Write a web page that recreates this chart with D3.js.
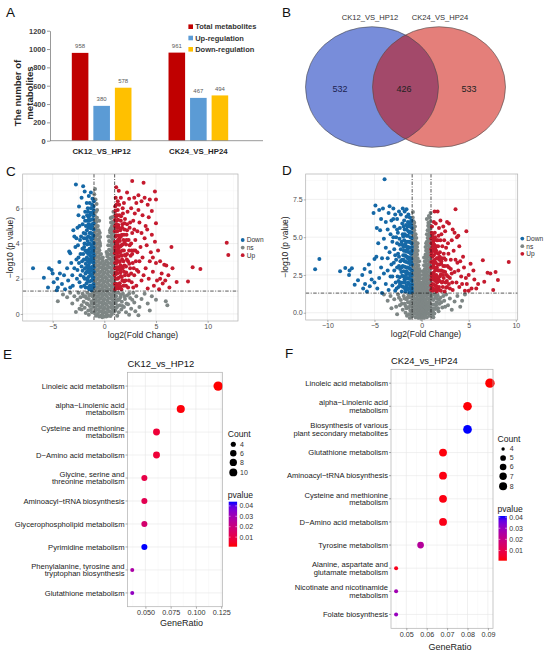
<!DOCTYPE html>
<html><head><meta charset="utf-8">
<script src="https://cdn.jsdelivr.net/npm/d3@7"></script>
<style>body{margin:0;background:#fff}svg{display:block}</style>
</head><body>
<svg id="c" width="550" height="656"></svg>
<script>
// ================= DATA =================
// Panel A
const groupsA = ["CK12_VS_HP12", "CK24_VS_HP24"];
const seriesA = ["Total metabolites", "Up-regulation", "Down-regulation"];
const totalA = [958, 961];
const upA = [380, 467];
const downA = [578, 494];
const yTicksA = [0, 200, 400, 600, 800, 1000, 1200];

// Panel B
const vennSets = ["CK12_VS_HP12", "CK24_VS_HP24"];
const vennCounts = [532, 426, 533]; // only A, both, only B

// Panel C volcano (log2FC, -log10 p)
const downC = [[-6.9,2.6],[-5.85,2.05],[-5.35,2.6],[-5.1,2.5],[-5.0,2.3],[-5.45,1.5],[-4.9,1.8],[-4.5,1.5],[-4.55,2.0],[-4.35,2.95],[-4.3,2.3],[-4.6,1.35],[-4.1,1.7],[-3.9,2.2],[-3.8,1.4],[-3.6,2.6],[-3.5,1.9],[-3.4,3.55],[-3.3,3.45],[-3.2,2.9],[-3.1,2.2],[-3.0,4.75],[-2.9,4.4],[-3.05,1.6],[-2.75,7.35],[-2.05,7.25],[-2.45,6.1],[-2.8,3.8],[-2.7,3.1],[-2.6,2.5],[-2.6,4.9],[-2.5,5.6],[-2.4,1.8],[-2.35,4.2],[-2.3,3.4],[-2.2,6.6],[-2.2,2.7],[-2.1,5.1],[-2.0,4.6],[-2.0,2.1],[-1.95,3.8],[-1.9,6.95],[-1.85,5.8],[-1.8,3.1],[-1.8,1.5],[-1.75,4.3],[-1.7,2.4],[-1.7,6.3],[-1.65,5.3],[-1.6,3.6],[-1.6,1.9],[-1.55,4.9],[-1.5,2.8],[-1.5,6.7],[-1.45,4.0],[-1.4,1.6],[-1.4,5.6],[-1.35,3.3],[-1.35,2.2],[-1.3,4.6],[-1.3,6.0],[-1.25,2.6],[-1.25,3.9],[-1.2,1.45],[-1.2,5.1],[-1.15,3.0],[-1.15,4.3],[-1.1,2.0],[-1.1,5.4],[-1.1,3.6],[-1.05,1.7],[-1.05,2.9],[-1.05,4.8],[-1.02,2.4],[-1.02,3.3],[-1.02,6.4],[-1.08,4.05],[-1.12,2.7],[-1.18,3.5],[-1.22,1.9],[-1.28,5.0],[-1.32,2.95],[-1.38,4.35],[-1.42,3.7],[-1.48,2.35],[-1.52,5.5],[-1.58,2.55],[-1.62,4.15],[-1.68,3.2],[-1.72,1.75],[-1.78,5.0],[-1.88,2.6],[-1.92,4.0],[-2.15,3.0],[-2.25,1.55],[-2.55,3.9],[-2.65,2.0],[-2.9,2.6],[-3.3,1.5],[-1.6,6.0],[-1.3,6.9],[-1.05,5.9],[-1.15,6.55],[-1.25,1.35],[-1.45,1.4],[-1.9,2.0],[-2.05,3.4],[-2.45,2.9],[-1.2,2.25],[-1.38,2.62],[-1.08,3.05],[-1.03,3.75],
[-1.03,1.55],[-1.06,2.05],[-1.04,2.65],[-1.07,3.45],[-1.03,4.0],[-1.06,4.45],[-1.04,5.15],[-1.07,5.6],[-1.04,6.1],[-1.16,1.6],[-1.19,2.15],[-1.14,2.45],[-1.17,3.25],[-1.13,3.8],[-1.19,4.55],[-1.16,5.0],[-1.14,5.75],[-1.18,6.2],[-1.28,1.6],[-1.3,2.45],[-1.27,3.15],[-1.31,3.7],[-1.26,4.2],[-1.3,4.85],[-1.27,5.35],[-1.33,5.75],[-1.42,1.85],[-1.4,2.5],[-1.44,3.1],[-1.41,3.5],[-1.43,4.6],[-1.39,5.0],[-1.46,5.3],[-1.41,6.3],[-1.55,1.5],[-1.53,2.1],[-1.57,3.0],[-1.54,3.4],[-1.56,4.4],[-1.53,5.1],[-1.58,5.8],[-1.68,2.0],[-1.66,2.7],[-1.7,3.5],[-1.65,3.95],[-1.69,4.75],[-1.67,5.6],[-1.82,2.3],[-1.8,2.85],[-1.84,3.6],[-1.83,4.55],[-1.86,5.3],[-1.95,1.6],[-1.98,3.1],[-1.97,4.3],[-2.02,5.5],[-2.1,2.45],[-2.12,3.7],[-2.25,4.4],[-2.3,2.2],[-2.4,5.0],[-2.5,3.2],[-2.7,4.3]];
const upC = [[2.7,7.55],[3.8,7.45],[1.15,7.2],[4.9,6.95],[5.0,6.5],[4.6,5.85],[5.0,5.15],[6.5,3.8],[11.85,4.05],[12.0,3.35],[8.55,2.65],[9.3,2.55],[7.0,1.82],[8.1,1.85],[6.6,2.6],[5.8,2.8],[5.55,2.3],[5.65,1.73],[6.0,2.75],[6.2,2.2],[6.3,1.5],[5.9,1.9],[5.4,2.0],[5.1,1.9],[4.4,6.5],[4.2,6.2],[3.9,6.6],[3.6,6.4],[3.3,6.75],[3.1,6.3],[2.9,6.6],[2.6,6.0],[2.4,6.55],[2.2,6.9],[1.9,6.3],[1.6,6.6],[1.4,7.0],[1.1,6.6],[1.3,6.4],[4.3,5.5],[4.0,5.0],[3.7,5.6],[3.4,5.2],[3.2,4.7],[4.6,4.5],[4.9,4.1],[5.2,3.6],[4.5,3.5],[4.1,3.9],[3.9,4.3],[5.4,3.0],[5.0,2.9],[4.7,2.4],[4.3,2.0],[4.0,2.6],[3.7,3.2],[3.5,3.8],[3.3,2.4],[3.1,1.6],[4.8,1.6],[5.3,1.4],[4.2,1.45],[3.6,1.9],[2.8,1.5],[4.4,3.0],[3.8,2.2],[3.6,4.6],[4.15,4.8],[3.4,3.0],[4.7,3.2],[1.05,1.4],[1.1,2.0],[1.05,2.6],[1.1,3.2],[1.05,3.8],[1.1,4.4],[1.05,5.0],[1.1,5.6],[1.05,6.1],[1.2,1.7],[1.25,2.3],[1.2,2.9],[1.25,3.5],[1.2,4.1],[1.25,4.7],[1.2,5.3],[1.3,5.9],[1.35,1.45],[1.4,2.05],[1.35,2.65],[1.4,3.25],[1.35,3.85],[1.4,4.45],[1.35,5.05],[1.45,5.6],[1.5,1.75],[1.55,2.35],[1.5,2.95],[1.55,3.55],[1.5,4.15],[1.55,4.75],[1.6,5.3],[1.65,1.4],[1.7,2.1],[1.65,2.7],[1.7,3.3],[1.65,3.9],[1.7,4.5],[1.75,5.1],[1.8,5.7],[1.85,1.6],[1.9,2.4],[1.85,3.0],[1.9,3.6],[1.85,4.2],[1.95,4.8],[2.0,5.4],[2.05,1.9],[2.1,2.7],[2.05,3.3],[2.1,3.95],[2.15,4.5],[2.2,5.1],[2.25,5.8],[2.3,1.5],[2.35,2.2],[2.3,3.0],[2.4,3.6],[2.35,4.2],[2.45,4.9],[2.5,2.6],[2.55,3.3],[2.6,4.0],[2.65,1.8],[2.7,4.6],[2.75,2.9],[2.8,5.3],[2.85,3.6],[2.9,2.2],[3.0,4.2],[3.05,3.0],[2.95,5.7],[1.15,2.3],[1.12,3.5],[1.18,4.7],[1.08,1.7],[1.28,2.0],[1.3,3.0],[1.32,4.2],[1.45,3.5],[1.6,2.5],[1.75,3.6],[1.9,4.5],[2.0,2.2],[2.2,3.4],[2.5,5.2],[3.2,3.5],[3.3,5.9],[2.7,3.4],[1.22,5.6],[1.02,4.7],[1.02,3.45],[1.02,2.2],
[1.03,1.7],[1.07,2.35],[1.04,2.9],[1.06,3.65],[1.03,4.1],[1.08,4.95],[1.04,5.35],[1.07,5.85],[1.15,1.5],[1.17,2.65],[1.14,3.1],[1.16,3.9],[1.18,4.45],[1.15,5.1],[1.17,5.55],[1.16,6.2],[1.27,1.55],[1.3,2.5],[1.28,3.3],[1.31,3.65],[1.27,4.0],[1.3,4.9],[1.33,5.35],[1.42,1.7],[1.45,2.6],[1.43,3.0],[1.4,3.75],[1.46,4.3],[1.43,4.9],[1.44,6.2],[1.57,1.55],[1.6,2.15],[1.58,2.75],[1.62,3.35],[1.57,3.85],[1.6,4.4],[1.62,5.55],[1.75,1.9],[1.78,2.6],[1.72,3.1],[1.77,3.95],[1.73,4.9],[1.78,6.0],[1.92,1.85],[1.95,2.75],[1.98,3.35],[1.96,4.05],[1.94,5.15],[2.1,1.6],[2.12,2.35],[2.18,3.1],[2.14,4.2],[2.2,4.75],[2.38,1.9],[2.42,2.85],[2.45,3.9],[2.6,2.3],[2.65,3.6],[2.85,2.6],[3.0,3.6],[3.15,2.5],[2.9,4.8]];
const nsC = [[-0.93,0.1],[-0.86,0.35],[-0.93,0.6],[-0.86,0.85],[-0.93,1.1],[-0.86,1.35],[-0.93,1.6],[-0.86,1.85],[-0.93,2.1],[-0.86,2.35],[-0.93,2.6],[-0.86,2.85],[-0.93,3.1],[-0.86,3.35],[-0.93,3.6],[-0.86,3.85],[-0.93,4.1],[-0.86,4.35],[-0.93,4.6],[-0.86,4.85],[-0.93,5.1],[-0.86,5.35],[-0.93,5.6],
[-0.78,0.22],[-0.71,0.47],[-0.78,0.72],[-0.71,0.97],[-0.78,1.22],[-0.71,1.47],[-0.78,1.72],[-0.71,1.97],[-0.78,2.22],[-0.71,2.47],[-0.78,2.72],[-0.71,2.97],[-0.78,3.22],[-0.71,3.47],[-0.78,3.72],[-0.71,3.97],[-0.78,4.22],[-0.71,4.47],[-0.78,4.72],[-0.71,4.97],[-0.78,5.22],[-0.71,5.47],
[-0.63,0],[-0.55,0.25],[-0.63,0.5],[-0.55,0.75],[-0.63,1],[-0.55,1.25],[-0.63,1.5],[-0.55,1.75],[-0.63,2],[-0.55,2.25],[-0.63,2.5],[-0.55,2.75],[-0.63,3],[-0.55,3.25],[-0.63,3.5],[-0.55,3.75],[-0.63,4],[-0.55,4.25],[-0.63,4.5],[-0.55,4.75],[-0.63,5],
[-0.48,0.12],[-0.41,0.37],[-0.48,0.62],[-0.41,0.87],[-0.48,1.12],[-0.41,1.37],[-0.48,1.62],[-0.41,1.87],[-0.48,2.12],[-0.41,2.37],[-0.48,2.62],[-0.41,2.87],[-0.48,3.12],[-0.41,3.37],[-0.48,3.62],[-0.41,3.87],[-0.48,4.12],[-0.41,4.37],[-0.48,4.62],
[-0.32,-0.1],[-0.24,0.15],[-0.32,0.4],[-0.24,0.65],[-0.32,0.9],[-0.24,1.15],[-0.32,1.4],[-0.24,1.65],[-0.32,1.9],[-0.24,2.15],[-0.32,2.4],[-0.24,2.65],[-0.32,2.9],[-0.24,3.15],[-0.32,3.4],
[-0.15,0.02],[-0.08,0.27],[-0.15,0.52],[-0.08,0.77],[-0.15,1.02],[-0.08,1.27],[-0.15,1.52],[-0.08,1.77],[-0.15,2.02],[-0.08,2.27],[-0.15,2.52],[-0.08,2.77],[-0.15,3.02],
[0.01,-0.15],[0.09,0.1],[0.01,0.35],[0.09,0.6],[0.01,0.85],[0.09,1.1],[0.01,1.35],[0.09,1.6],[0.01,1.85],[0.09,2.1],[0.01,2.35],[0.09,2.6],[0.01,2.85],
[0.22,0.02],[0.29,0.27],[0.22,0.52],[0.29,0.77],[0.22,1.02],[0.29,1.27],[0.22,1.52],[0.29,1.77],[0.22,2.02],[0.29,2.27],[0.22,2.52],[0.29,2.77],[0.22,3.02],[0.29,3.27],[0.22,3.52],
[0.38,-0.1],[0.46,0.15],[0.38,0.4],[0.46,0.65],[0.38,0.9],[0.46,1.15],[0.38,1.4],[0.46,1.65],[0.38,1.9],[0.46,2.15],[0.38,2.4],[0.46,2.65],[0.38,2.9],[0.46,3.15],[0.38,3.4],[0.46,3.65],[0.38,3.9],[0.46,4.15],[0.38,4.4],
[0.57,0.12],[0.64,0.37],[0.57,0.62],[0.64,0.87],[0.57,1.12],[0.64,1.37],[0.57,1.62],[0.64,1.87],[0.57,2.12],[0.64,2.37],[0.57,2.62],[0.64,2.87],[0.57,3.12],[0.64,3.37],[0.57,3.62],[0.64,3.87],[0.57,4.12],[0.64,4.37],[0.57,4.62],[0.64,4.87],
[0.74,0],[0.84,0.25],[0.74,0.5],[0.84,0.75],[0.74,1],[0.84,1.25],[0.74,1.5],[0.84,1.75],[0.74,2],[0.84,2.25],[0.74,2.5],[0.84,2.75],[0.74,3],[0.84,3.25],[0.74,3.5],[0.84,3.75],[0.74,4],[0.84,4.25],[0.74,4.5],[0.84,4.75],[0.74,5],[0.84,5.25],[0.74,5.5],
[0.93,0.12],[0.97,0.37],[0.93,0.62],[0.97,0.87],[0.93,1.12],[0.97,1.37],[0.93,1.62],[0.97,1.87],[0.93,2.12],[0.97,2.37],[0.93,2.62],[0.97,2.87],[0.93,3.12],[0.97,3.37],[0.93,3.62],[0.97,3.87],[0.93,4.12],[0.97,4.37],[0.93,4.62],[0.97,4.87],[0.93,5.12],
[-0.9,7.1],[-0.97,6.8],[-0.85,6.5],[-0.75,6.25],[-0.7,5.9],[-0.8,5.8],[-0.5,5.3],[0.55,4.75],[0.65,5.2],[0.88,5.8],[0.95,5.55],[0.62,5.45],[-0.42,4.0],[0.28,3.4],[-0.15,3.2],[-0.45,4.6],[0.2,3.0],
[-4.5,0.72],[-2.75,0.11],[-2.2,0.5],[3.3,-0.07],[5.95,0.72],[6.1,0.5],[-4.0,1.1],[-3.6,0.95],[-3.3,1.2],[-3.1,0.6],[-2.9,1.0],[-2.6,0.8],[-2.5,1.2],[-2.4,0.3],[-2.3,0.95],[-2.1,1.15],[-2.0,0.7],[-1.9,0.35],[-1.85,1.0],[-1.7,0.6],[-1.65,1.2],[-1.55,0.2],[-1.5,0.85],[-1.4,0.45],[-1.35,1.1],[-1.25,0.7],[-1.2,0.1],[-1.15,1.0],[-1.1,0.4],[-1.05,0.8],[-1.5,-0.05],[-1.8,0.05],
[1.05,0.2],[1.1,0.6],[1.15,1.0],[1.2,0.35],[1.3,0.8],[1.35,1.2],[1.4,0.1],[1.5,0.5],[1.55,0.95],[1.65,0.25],[1.7,0.7],[1.8,1.15],[1.9,0.4],[2.0,0.85],[2.1,0.1],[2.2,1.05],[2.3,0.55],[2.5,0.9],[2.6,0.3],[2.8,1.2],[2.9,0.65],[3.1,1.0],[3.4,0.4],[3.6,0.85],[3.9,1.15],[4.2,0.6],[4.6,1.0],[5.0,0.8],[4.4,0.2],[2.4,-0.05],[1.25,-0.1],[3.0,0.15],
[-0.8,-0.1],[-0.5,-0.15],[-0.2,-0.18],[0.2,-0.15],[0.6,-0.12],
[-1.1,1.2],[-1.2,0.6],[-1.3,0.25],[-1.45,1.05],[-1.6,0.55],[-1.75,0.9],[-2.0,1.0],[-2.2,0.25],[1.1,1.2],[1.2,0.75],[1.3,0.45],[1.45,0.8],[1.6,1.1],[1.75,0.45],[1.95,1.0],[2.15,0.6],[2.4,1.15],[2.7,0.8]];
const xTicksC = [-5, 0, 5, 10];
const yTicksC = [0, 2, 4, 6];

// Panel D volcano
const downD = [[-3.93,8.83],[-10.85,3.55],[-11.3,2.87],[-8.65,2.75],[-8.1,2.96],[-7.65,2.8],[-7.7,2.5],[-7.4,2.95],[-6.75,2.15],[-6.3,2.5],[-6.05,2.9],[-5.6,3.2],[-5.45,2.7],[-5.0,3.55],[-4.8,3.7],[-5.3,2.2],[-4.9,7.1],[-5.1,6.6],[-4.1,6.9],[-3.4,7.05],[-3.0,6.9],[-4.4,5.45],[-7.1,1.85],[-6.2,1.6],[-5.8,1.4],[-4.7,1.6],[-4.2,1.3],[-5.5,1.75],[-4.5,2.3],[-4.3,3.0],[-4.6,4.6],[-4.75,5.6],[-4.3,6.2],[-3.8,6.0],[-3.6,5.5],[-4.0,4.9],[-3.8,4.3],[-3.6,3.6],[-4.0,2.6],[-3.8,1.9],[-3.5,1.5],[-3.3,2.4],[-3.2,3.2],[-3.4,4.0],[-3.1,4.7],[-3.3,5.2],[-3.0,6.2],[-2.8,6.5],[-2.6,6.2],[-2.4,6.7],[-2.2,6.5],[-2.0,6.9],[-1.8,6.7],[-1.6,6.85],[-1.4,6.5],[-2.9,5.7],[-2.7,5.0],[-2.9,4.2],[-2.7,3.5],[-2.9,2.8],[-2.75,2.0],[-2.8,1.45],[-2.6,4.6],[-2.5,3.9],[-2.4,3.1],[-2.55,2.4],[-2.45,1.7],[-2.3,5.6],[-2.35,4.9],[-2.2,4.2],[-2.25,3.4],[-2.15,2.7],[-2.2,2.0],[-2.1,1.4],[-2.05,5.9],[-2.0,5.2],[-2.05,4.5],[-1.95,3.8],[-2.0,3.1],[-1.9,2.4],[-1.95,1.7],[-1.85,6.1],[-1.8,5.5],[-1.85,4.8],[-1.75,4.1],[-1.8,3.4],[-1.7,2.7],[-1.75,2.0],[-1.7,1.4],[-1.65,5.8],[-1.6,5.1],[-1.65,4.4],[-1.55,3.7],[-1.6,3.0],[-1.5,2.3],[-1.55,1.6],[-1.45,6.0],[-1.4,5.4],[-1.45,4.7],[-1.35,4.0],[-1.4,3.3],[-1.3,2.6],[-1.35,1.9],[-1.3,1.35],[-1.25,5.7],[-1.2,5.0],[-1.25,4.3],[-1.15,3.6],[-1.2,2.9],[-1.1,2.2],[-1.15,1.6],[-1.08,5.3],[-1.05,4.6],[-1.08,3.9],[-1.03,3.2],[-1.05,2.5],[-1.02,1.85],[-1.04,1.4],[-1.1,5.8],[-1.02,4.1],[-1.12,3.35],[-1.22,2.45],[-1.32,3.65],[-1.42,2.0],[-1.52,4.2],[-1.62,2.55],[-1.72,3.75],[-1.82,2.2],[-1.92,4.35],[-2.12,3.0],[-2.32,2.35],[-2.52,5.3],[-3.1,1.8],[-3.6,2.8],[-4.2,3.6],[-5.0,2.0],[-6.0,1.9],[-1.25,6.3],[-1.6,6.35],[-2.6,5.5],[-3.2,6.1],[-3.5,6.6],[-4.5,6.8],
[-1.03,1.6],[-1.06,2.1],[-1.04,2.8],[-1.07,3.55],[-1.03,4.35],[-1.06,4.95],[-1.04,5.6],[-1.07,6.1],[-1.16,1.35],[-1.19,1.85],[-1.14,2.55],[-1.17,3.2],[-1.13,3.9],[-1.19,4.65],[-1.16,5.35],[-1.14,6.0],[-1.28,1.65],[-1.3,2.25],[-1.27,2.95],[-1.31,3.4],[-1.26,4.0],[-1.3,4.7],[-1.27,5.3],[-1.33,5.9],[-1.45,1.55],[-1.48,2.6],[-1.44,3.0],[-1.47,3.6],[-1.42,4.35],[-1.46,5.1],[-1.5,5.7],[-1.6,1.8],[-1.63,2.25],[-1.58,2.75],[-1.62,3.35],[-1.57,4.05],[-1.64,4.7],[-1.6,5.5],[-1.77,1.6],[-1.74,2.35],[-1.79,3.05],[-1.76,3.8],[-1.72,4.55],[-1.78,5.2],[-1.92,2.0],[-1.9,2.75],[-1.93,3.5],[-1.88,4.1],[-1.95,5.05],[-1.9,5.7],[-2.1,1.75],[-2.05,2.45],[-2.08,3.5],[-2.12,4.7],[-2.3,1.9],[-2.28,2.9],[-2.4,3.7],[-2.35,4.5],[-2.45,2.1],[-2.6,3.0],[-2.65,1.6],[-2.8,3.8],[-2.95,3.3],[-3.1,2.4],[-3.0,5.0]];
const upD = [[3.6,6.85],[1.38,6.7],[1.7,6.7],[4.75,5.4],[6.5,3.47],[9.25,3.36],[7.85,2.7],[7.0,2.65],[7.3,2.6],[8.1,2.17],[6.65,2.05],[7.6,1.5],[6.0,1.9],[5.6,2.2],[5.3,1.6],[5.5,2.8],[5.2,3.25],[5.0,2.5],[4.8,1.9],[4.6,1.45],[4.5,3.0],[4.2,2.4],[4.0,1.7],[4.4,3.7],[4.0,4.4],[3.8,3.3],[3.7,2.0],[3.5,5.3],[3.3,5.5],[3.2,4.8],[3.4,4.1],[3.5,2.7],[3.3,1.5],[3.1,3.5],[3.0,2.3],[3.75,5.0],[2.9,5.9],[2.7,6.0],[2.5,5.4],[2.3,5.7],[2.1,5.2],[2.0,6.1],[1.85,5.6],[1.5,5.9],[1.3,6.0],[2.8,4.6],[2.85,3.9],[2.75,3.1],[2.8,2.4],[2.7,1.7],[2.6,4.3],[2.55,3.5],[2.5,2.7],[2.55,2.0],[2.45,1.4],[2.4,4.8],[2.35,3.9],[2.3,3.1],[2.35,2.3],[2.25,1.7],[2.2,4.4],[2.15,3.6],[2.1,2.8],[2.15,2.0],[2.05,1.45],[2.0,4.8],[1.95,4.0],[1.9,3.2],[1.95,2.4],[1.85,1.7],[1.8,5.1],[1.75,4.4],[1.7,3.6],[1.75,2.8],[1.65,2.0],[1.6,1.4],[1.6,4.8],[1.55,4.1],[1.5,3.3],[1.55,2.5],[1.45,1.8],[1.4,5.3],[1.35,4.5],[1.3,3.8],[1.35,3.0],[1.25,2.2],[1.3,1.5],[1.2,5.0],[1.15,4.2],[1.2,3.4],[1.1,2.6],[1.15,1.9],[1.08,5.3],[1.05,4.6],[1.05,3.8],[1.03,3.0],[1.05,2.2],[1.03,1.5],[1.1,5.7],[1.22,4.65],[1.28,2.65],[1.42,2.35],[1.48,3.95],[1.62,3.0],[1.78,2.2],[1.88,3.5],[2.08,3.25],[2.28,2.5],[2.48,3.1],[2.68,2.1],[2.9,1.9],[3.1,2.9],[3.25,2.0],[3.6,3.5],[3.9,2.8],[4.3,1.9],[5.0,1.45],[5.8,1.6],[4.7,2.3],[1.02,4.2],[1.18,1.45],[1.35,1.55],[3.9,5.1],[4.1,3.4],
[1.03,1.8],[1.07,2.45],[1.04,3.35],[1.06,4.0],[1.03,4.9],[1.15,1.6],[1.17,2.3],[1.14,3.0],[1.16,3.7],[1.18,4.4],[1.15,5.2],[1.28,1.85],[1.3,2.5],[1.27,3.2],[1.31,4.1],[1.29,4.8],[1.42,1.55],[1.45,2.1],[1.43,2.8],[1.4,3.5],[1.46,4.3],[1.43,5.0],[1.58,1.75],[1.6,2.25],[1.57,2.85],[1.62,3.6],[1.59,4.4],[1.72,1.55],[1.75,2.35],[1.73,3.2],[1.77,3.9],[1.72,4.8],[1.9,1.5],[1.92,2.1],[1.88,2.8],[1.93,3.7],[2.05,2.55],[2.1,3.4],[2.25,2.05],[2.3,2.75],[2.4,3.6],[2.6,1.65],[2.65,2.5],[2.9,3.0],[3.0,1.6],[3.2,2.6]];
const nsD = [[-0.94,-0.2],[-0.86,0.05],[-0.94,0.3],[-0.86,0.55],[-0.94,0.8],[-0.86,1.05],[-0.94,1.3],[-0.86,1.55],[-0.94,1.8],[-0.86,2.05],[-0.94,2.3],[-0.86,2.55],[-0.94,2.8],[-0.86,3.05],[-0.94,3.3],[-0.86,3.55],[-0.94,3.8],[-0.86,4.05],[-0.94,4.3],[-0.86,4.55],[-0.94,4.8],[-0.86,5.05],[-0.94,5.3],[-0.86,5.55],[-0.94,5.8],[-0.86,6.05],[-0.94,6.3],
[-0.78,-0.05],[-0.72,0.2],[-0.78,0.45],[-0.72,0.7],[-0.78,0.95],[-0.72,1.2],[-0.78,1.45],[-0.72,1.7],[-0.78,1.95],[-0.72,2.2],[-0.78,2.45],[-0.72,2.7],[-0.78,2.95],[-0.72,3.2],[-0.78,3.45],[-0.72,3.7],[-0.78,3.95],[-0.72,4.2],[-0.78,4.45],[-0.72,4.7],[-0.78,4.95],[-0.72,5.2],[-0.78,5.45],[-0.72,5.7],[-0.78,5.95],
[-0.64,-0.3],[-0.56,-0.05],[-0.64,0.2],[-0.56,0.45],[-0.64,0.7],[-0.56,0.95],[-0.64,1.2],[-0.56,1.45],[-0.64,1.7],[-0.56,1.95],[-0.64,2.2],[-0.56,2.45],[-0.64,2.7],[-0.56,2.95],[-0.64,3.2],[-0.56,3.45],[-0.64,3.7],[-0.56,3.95],[-0.64,4.2],[-0.56,4.45],[-0.64,4.7],[-0.56,4.95],[-0.64,5.2],
[-0.48,-0.15],[-0.42,0.1],[-0.48,0.35],[-0.42,0.6],[-0.48,0.85],[-0.42,1.1],[-0.48,1.35],[-0.42,1.6],[-0.48,1.85],[-0.42,2.1],[-0.48,2.35],[-0.42,2.6],[-0.48,2.85],[-0.42,3.1],[-0.48,3.35],[-0.42,3.6],[-0.48,3.85],[-0.42,4.1],[-0.48,4.35],[-0.42,4.6],
[-0.34,-0.35],[-0.26,-0.1],[-0.34,0.15],[-0.26,0.4],[-0.34,0.65],[-0.26,0.9],[-0.34,1.15],[-0.26,1.4],[-0.34,1.65],[-0.26,1.9],[-0.34,2.15],[-0.26,2.4],[-0.34,2.65],[-0.26,2.9],[-0.34,3.15],[-0.26,3.4],
[-0.18,-0.25],[-0.12,0.0],[-0.18,0.25],[-0.12,0.5],[-0.18,0.75],[-0.12,1.0],[-0.18,1.25],[-0.12,1.5],[-0.18,1.75],[-0.12,2.0],[-0.18,2.25],[-0.12,2.5],[-0.18,2.75],
[-0.04,-0.4],[0.04,-0.15],[-0.04,0.1],[0.04,0.35],[-0.04,0.6],[0.04,0.85],[-0.04,1.1],[0.04,1.35],[-0.04,1.6],[0.04,1.85],
[0.12,-0.25],[0.18,0.0],[0.12,0.25],[0.18,0.5],[0.12,0.75],[0.18,1.0],[0.12,1.25],[0.18,1.5],[0.12,1.75],[0.18,2.0],[0.12,2.25],[0.18,2.5],[0.12,2.75],
[0.26,-0.35],[0.34,-0.1],[0.26,0.15],[0.34,0.4],[0.26,0.65],[0.34,0.9],[0.26,1.15],[0.34,1.4],[0.26,1.65],[0.34,1.9],[0.26,2.15],[0.34,2.4],[0.26,2.65],[0.34,2.9],[0.26,3.15],[0.34,3.4],[0.26,3.65],
[0.42,-0.15],[0.48,0.1],[0.42,0.35],[0.48,0.6],[0.42,0.85],[0.48,1.1],[0.42,1.35],[0.48,1.6],[0.42,1.85],[0.48,2.1],[0.42,2.35],[0.48,2.6],[0.42,2.85],[0.48,3.1],[0.42,3.35],[0.48,3.6],[0.42,3.85],[0.48,4.1],[0.42,4.35],[0.48,4.6],
[0.56,-0.3],[0.64,-0.05],[0.56,0.2],[0.64,0.45],[0.56,0.7],[0.64,0.95],[0.56,1.2],[0.64,1.45],[0.56,1.7],[0.64,1.95],[0.56,2.2],[0.64,2.45],[0.56,2.7],[0.64,2.95],[0.56,3.2],[0.64,3.45],[0.56,3.7],[0.64,3.95],[0.56,4.2],[0.64,4.45],[0.56,4.7],[0.64,4.95],[0.56,5.2],[0.64,5.45],
[0.72,-0.05],[0.78,0.2],[0.72,0.45],[0.78,0.7],[0.72,0.95],[0.78,1.2],[0.72,1.45],[0.78,1.7],[0.72,1.95],[0.78,2.2],[0.72,2.45],[0.78,2.7],[0.72,2.95],[0.78,3.2],[0.72,3.45],[0.78,3.7],[0.72,3.95],[0.78,4.2],[0.72,4.45],[0.78,4.7],[0.72,4.95],[0.78,5.2],[0.72,5.45],[0.78,5.7],[0.72,5.95],
[0.86,-0.2],[0.94,0.05],[0.86,0.3],[0.94,0.55],[0.86,0.8],[0.94,1.05],[0.86,1.3],[0.94,1.55],[0.86,1.8],[0.94,2.05],[0.86,2.3],[0.94,2.55],[0.86,2.8],[0.94,3.05],[0.86,3.3],[0.94,3.55],[0.86,3.8],[0.94,4.05],[0.86,4.3],[0.94,4.55],[0.86,4.8],[0.94,5.05],[0.86,5.3],[0.94,5.55],[0.86,5.8],[0.94,6.05],[0.86,6.3],
[-0.92,6.66],[0.56,6.2],[0.77,6.4],[0.95,6.6],[-0.75,5.7],[0.7,5.75],
[-3.2,0.3],[-2.3,0.5],[3.5,0.75],[4.3,0.8],[-4.0,1.2],[-3.6,0.8],[-3.3,1.1],[-2.9,0.9],[-2.7,0.4],[-2.5,1.2],[-2.2,0.85],[-2.0,0.2],[-1.9,1.1],[-1.8,0.6],[-1.7,0.0],[-1.6,0.9],[-1.5,0.35],[-1.4,1.2],[-1.35,-0.1],[-1.3,0.7],[-1.2,0.15],[-1.15,1.0],[-1.1,0.45],[-1.05,-0.2],[-1.25,-0.35],[-1.55,-0.2],
[1.05,0.3],[1.1,0.9],[1.15,-0.2],[1.2,1.2],[1.3,0.55],[1.35,-0.05],[1.45,1.0],[1.5,0.25],[1.6,0.7],[1.7,1.15],[1.8,0.1],[1.9,0.6],[2.0,1.0],[2.2,0.35],[2.4,0.8],[2.6,1.2],[2.8,0.5],[3.0,0.95],[3.2,0.2],[3.8,1.1],[4.6,1.2],[4.1,0.4],[1.25,-0.3],[-2.6,-0.1],
[-1.8,0.95],[-1.6,0.3],[-1.45,0.7],[-1.3,1.05],[-1.2,0.5],[-1.1,-0.05],[-1.05,0.75],[-1.15,1.25],[-1.35,0.35],[-1.5,1.0],[-1.7,0.45],[-2.1,0.6],[-2.4,1.0],[1.1,0.55],[1.2,0.1],[1.25,0.85],[1.35,0.3],[1.4,1.2],[1.55,0.5],[1.65,0.95],[1.75,0.3],[1.85,0.85],[2.1,0.7],[2.3,1.1],[2.5,0.4],[1.05,1.05],[1.15,-0.1]];
const xTicksD = [-10, -5, 0, 5, 10];
const yTicksD = [0, 2.5, 5, 7.5];

// Panel E bubble
const pathE = ["Linoleic acid metabolism", "alpha\u2212Linolenic acid\nmetabolism", "Cysteine and methionine\nmetabolism", "D\u2212Amino acid metabolism", "Glycine, serine and\nthreonine metabolism", "Aminoacyl\u2212tRNA biosynthesis", "Glycerophospholipid metabolism", "Pyrimidine metabolism", "Phenylalanine, tyrosine and\ntryptophan biosynthesis", "Glutathione metabolism"];
const ratioE = [0.122, 0.085, 0.061, 0.061, 0.049, 0.049, 0.049, 0.049, 0.037, 0.037];
const countE = [10, 7, 5, 5, 4, 4, 4, 4, 3, 3];
const pvalE = [0.0008, 0.0015, 0.0075, 0.0072, 0.0100, 0.0120, 0.0170, 0.0440, 0.0280, 0.0330];
const xTicksE = [0.050, 0.075, 0.100, 0.125];
const countLegE = [4, 6, 8, 10];
const pTicks = [0.01, 0.02, 0.03, 0.04];

// Panel F bubble
const pathF = ["Linoleic acid metabolism", "alpha\u2212Linolenic acid\nmetabolism", "Biosynthesis of various\nplant secondary metabolites", "Glutathione metabolism", "Aminoacyl\u2212tRNA biosynthesis", "Cysteine and methionine\nmetabolism", "D\u2212Amino acid metabolism", "Tyrosine metabolism", "Alanine, aspartate and\nglutamate metabolism", "Nicotinate and nicotinamide\nmetabolism", "Folate biosynthesis"];
const ratioF = [0.091, 0.080, 0.080, 0.068, 0.068, 0.068, 0.068, 0.057, 0.045, 0.045, 0.045];
const countF = [8, 7, 7, 6, 6, 6, 6, 5, 4, 4, 4];
const pvalF = [0.0008, 0.0012, 0.0410, 0.0015, 0.0020, 0.0020, 0.0025, 0.0240, 0.0030, 0.0280, 0.0300];
const xTicksF = [0.05, 0.06, 0.07, 0.08, 0.09];
const countLegF = [4, 5, 6, 7, 8];

// ================= DRAW =================
const FONT = "'Liberation Sans', Arial, Helvetica, sans-serif";
const svg = d3.select("#c").attr("font-family", FONT);
const defs = svg.append("defs");

function letter(t, x, y) {
  svg.append("text").attr("x", x).attr("y", y).attr("font-size", 13.5).attr("fill", "#111").text(t);
}
letter("A", 6, 17); letter("B", 282, 17); letter("C", 6, 176); letter("D", 282, 175); letter("E", 3, 359); letter("F", 285, 358);

// ----- Panel A -----
(function () {
  const colors = ["#C00000", "#5B9BD5", "#FFC000"];
  const g = svg.append("g");
  const x0 = d3.scaleBand().domain(groupsA).range([50, 250]).paddingInner(0.383).paddingOuter(0.2255);
  const x1 = d3.scaleBand().domain(seriesA).range([0, x0.bandwidth()]).paddingInner(0.23);
  const y = d3.scaleLinear().domain([0, 1200]).range([140.7, 30.7]);
  const vals = groupsA.map((gname, i) => ({ g: gname, v: [totalA[i], upA[i], downA[i]] }));
  const grp = g.selectAll(".grp").data(vals).join("g").attr("transform", d => `translate(${x0(d.g)},0)`);
  grp.selectAll("rect").data(d => d.v.map((v, j) => ({ s: seriesA[j], v, j }))).join("rect")
    .attr("x", d => x1(d.s)).attr("width", x1.bandwidth())
    .attr("y", d => y(d.v)).attr("height", d => y(0) - y(d.v)).attr("fill", d => colors[d.j]);
  grp.selectAll("text.v").data(d => d.v.map((v, j) => ({ s: seriesA[j], v }))).join("text")
    .attr("class", "v").attr("x", d => x1(d.s) + x1.bandwidth() / 2).attr("y", d => y(d.v) - 4.5)
    .attr("text-anchor", "middle").attr("font-size", 6).attr("fill", "#595959").text(d => d.v);
  const ya = g.append("g").attr("transform", "translate(50,0)")
    .call(d3.axisLeft(y).tickValues(yTicksA).tickSize(3).tickSizeOuter(0).tickPadding(1.5).tickFormat(d3.format("d")));
  ya.attr("font-family", FONT).attr("font-size", 7.4).attr("font-weight", "bold");
  ya.select(".domain").attr("stroke", "#7f7f7f").attr("stroke-width", 0.8);
  ya.selectAll(".tick line").attr("stroke", "#7f7f7f").attr("stroke-width", 0.8);
  ya.selectAll(".tick text").attr("fill", "#404040");
  g.append("line").attr("x1", 50).attr("x2", 263).attr("y1", y(0)).attr("y2", y(0)).attr("stroke", "#7f7f7f").attr("stroke-width", 0.8);
  g.selectAll("text.cat").data(groupsA).join("text").attr("class", "cat")
    .attr("x", d => x0(d) + x0.bandwidth() / 2).attr("y", 153.5).attr("text-anchor", "middle")
    .attr("font-size", 7.8).attr("font-weight", "bold").attr("fill", "#262626").text(d => d);
  const yt = g.append("text").attr("transform", "translate(0,93) rotate(-90)").attr("text-anchor", "middle")
    .attr("font-size", 9.6).attr("font-weight", "bold").attr("fill", "#262626");
  yt.append("tspan").attr("x", 0).attr("y", 20.5).text("The number of");
  yt.append("tspan").attr("x", 0).attr("y", 33).text("metabolites");
  const leg = g.selectAll("g.leg").data(seriesA).join("g").attr("class", "leg")
    .attr("transform", (d, i) => `translate(190.7,${26.7 + i * 11.3})`);
  leg.append("rect").attr("x", -2.3).attr("y", -2.3).attr("width", 4.6).attr("height", 4.6).attr("fill", (d, i) => colors[i]);
  leg.append("text").attr("x", 4.5).attr("y", 2.7).attr("font-size", 7.5).attr("font-weight", "bold").attr("fill", "#333").text(d => d);
})();

// ----- Panel B -----
(function () {
  const g = svg.append("g");
  const cx = d3.scaleLinear().domain([0, 1]).range([372, 439]);
  const cy = 87, rx = 66.5, ry = 60.3;
  defs.append("clipPath").attr("id", "clipL").append("ellipse").attr("cx", cx(0)).attr("cy", cy).attr("rx", rx).attr("ry", ry);
  g.append("ellipse").attr("cx", cx(0)).attr("cy", cy).attr("rx", rx).attr("ry", ry).attr("fill", "#788DDA");
  g.append("ellipse").attr("cx", cx(1)).attr("cy", cy).attr("rx", rx).attr("ry", ry).attr("fill", "#E47F7A");
  g.append("ellipse").attr("clip-path", "url(#clipL)").attr("cx", cx(1)).attr("cy", cy).attr("rx", rx).attr("ry", ry).attr("fill", "#A3496A");
  [0, 1].forEach(i => g.append("ellipse").attr("cx", cx(i)).attr("cy", cy).attr("rx", rx).attr("ry", ry)
    .attr("fill", "none").attr("stroke", "#4a4a4a").attr("stroke-width", 0.6));
  g.selectAll("text.set").data(vennSets).join("text").attr("class", "set")
    .attr("x", (d, i) => cx(i) - 2 + i * 3).attr("y", 20).attr("text-anchor", "middle").attr("font-size", 7.6).attr("fill", "#333").text(d => d);
  const numX = [cx(0) - 32, (cx(0) + cx(1)) / 2 - 1.5, cx(1) + 30];
  g.selectAll("text.num").data(vennCounts).join("text").attr("class", "num")
    .attr("x", (d, i) => numX[i]).attr("y", 92).attr("text-anchor", "middle").attr("font-size", 9)
    .attr("fill", (d, i) => i === 0 ? "#1c2350" : "#222").text(d => d);
})();

// ----- Volcano -----
function volcano(o) {
  const g = svg.append("g");
  const x = d3.scaleLinear().domain(o.xd).range([o.x0, o.x1]);
  const y = d3.scaleLinear().domain(o.yd).range([o.y1, o.y0]);
  g.append("rect").attr("x", o.x0).attr("y", o.y0).attr("width", o.x1 - o.x0).attr("height", o.y1 - o.y0).attr("fill", "#fff");
  g.selectAll("line.mnx").data(o.xminor).join("line").attr("x1", d => x(d)).attr("x2", d => x(d)).attr("y1", o.y0).attr("y2", o.y1).attr("stroke", "#f2f2f2").attr("stroke-width", 0.4);
  g.selectAll("line.mny").data(o.yminor).join("line").attr("y1", d => y(d)).attr("y2", d => y(d)).attr("x1", o.x0).attr("x2", o.x1).attr("stroke", "#f2f2f2").attr("stroke-width", 0.4);
  g.selectAll("line.mjx").data(o.xt).join("line").attr("x1", d => x(d)).attr("x2", d => x(d)).attr("y1", o.y0).attr("y2", o.y1).attr("stroke", "#e6e6e6").attr("stroke-width", 0.6);
  g.selectAll("line.mjy").data(o.yt).join("line").attr("y1", d => y(d)).attr("y2", d => y(d)).attr("x1", o.x0).attr("x2", o.x1).attr("stroke", "#e6e6e6").attr("stroke-width", 0.6);
  const sets = [[o.ns, "#7E8685"], [o.down, "#1568A6"], [o.up, "#C51A2E"]];
  sets.forEach(([data, col]) => {
    g.append("g").selectAll("circle").data(data).join("circle")
      .attr("cx", d => x(d[0])).attr("cy", d => y(d[1])).attr("r", 2).attr("fill", col);
  });
  const dash = "3.5,1.5,1,1.5";
  [-1, 1].forEach(v => g.append("line").attr("x1", x(v)).attr("x2", x(v)).attr("y1", o.y0).attr("y2", o.y1).attr("stroke", "#111").attr("stroke-width", 0.7).attr("stroke-dasharray", dash));
  g.append("line").attr("x1", o.x0).attr("x2", o.x1).attr("y1", y(1.3)).attr("y2", y(1.3)).attr("stroke", "#111").attr("stroke-width", 0.7).attr("stroke-dasharray", dash);
  g.append("rect").attr("x", o.x0).attr("y", o.y0).attr("width", o.x1 - o.x0).attr("height", o.y1 - o.y0).attr("fill", "none").attr("stroke", "#b0b0b0").attr("stroke-width", 0.7);
  const xa = g.append("g").attr("transform", `translate(0,${o.y1})`).call(d3.axisBottom(x).tickValues(o.xt).tickSize(2).tickSizeOuter(0).tickPadding(1).tickFormat(o.xf));
  const ya = g.append("g").attr("transform", `translate(${o.x0},0)`).call(d3.axisLeft(y).tickValues(o.yt).tickSize(2).tickSizeOuter(0).tickPadding(1).tickFormat(o.yf));
  [xa, ya].forEach(a => {
    a.attr("font-family", FONT).attr("font-size", 7);
    a.select(".domain").remove();
    a.selectAll(".tick line").attr("stroke", "#666").attr("stroke-width", 0.5);
    a.selectAll(".tick text").attr("fill", "#4d4d4d");
  });
  g.append("text").attr("x", o.xTitleX).attr("y", o.y1 + 16.5).attr("text-anchor", "middle").attr("font-size", 8.5).attr("fill", "#222").text("log2(Fold Change)");
  g.append("text").attr("transform", `translate(${o.yTitleX},${(o.y0 + o.y1) / 2}) rotate(-90)`).attr("text-anchor", "middle").attr("font-size", 8.5).attr("fill", "#222").text("\u2212log10 (p value)");
  const leg = [["Down", "#1568A6"], ["ns", "#7E8685"], ["Up", "#C51A2E"]];
  leg.forEach(([t, c], i) => {
    g.append("circle").attr("cx", o.legX).attr("cy", o.legY + i * 7.6).attr("r", 1.9).attr("fill", c);
    g.append("text").attr("x", o.legX + 4).attr("y", o.legY + i * 7.6 + 2.3).attr("font-size", 6.6).attr("fill", "#333").text(t);
  });
}
volcano({ x0: 22.7, x1: 238, y0: 174, y1: 321, xd: [-7.9, 12.94], yd: [-0.4, 7.95], xt: xTicksC, yt: yTicksC,
  xminor: [-7.5, -2.5, 2.5, 7.5, 12.5], yminor: [1, 3, 5, 7], ns: nsC, down: downC, up: upC,
  xf: d3.format("d"), yf: d3.format("d"), xTitleX: 143, yTitleX: 12.5, legX: 242.7, legY: 240 });
volcano({ x0: 305.7, x1: 517.7, y0: 174, y1: 320, xd: [-12.3, 10.2], yd: [-0.48, 9.18], xt: xTicksD, yt: yTicksD,
  xminor: [-7.5, -2.5, 2.5, 7.5], yminor: [1.25, 3.75, 6.25, 8.75], ns: nsD, down: downD, up: upD,
  xf: d3.format("d"), yf: d3.format(".1f"), xTitleX: 426, yTitleX: 287.5, legX: 522.3, legY: 238.6 });

// ----- Bubble -----
function bubble(o) {
  const g = svg.append("g");
  const x = d3.scaleLinear().domain(o.xd).range([o.x0, o.x1]);
  const y = d3.scalePoint().domain(o.names).range([o.y0, o.y1]).padding(0.6);
  g.append("rect").attr("x", o.x0).attr("y", o.y0).attr("width", o.x1 - o.x0).attr("height", o.y1 - o.y0).attr("fill", "#fff");
  g.selectAll("line.mn").data(o.xminor).join("line").attr("x1", d => x(d)).attr("x2", d => x(d)).attr("y1", o.y0).attr("y2", o.y1).attr("stroke", "#f2f2f2").attr("stroke-width", 0.4);
  g.selectAll("line.mj").data(o.xt).join("line").attr("x1", d => x(d)).attr("x2", d => x(d)).attr("y1", o.y0).attr("y2", o.y1).attr("stroke", "#e6e6e6").attr("stroke-width", 0.6);
  g.selectAll("line.hy").data(o.names).join("line").attr("y1", d => y(d)).attr("y2", d => y(d)).attr("x1", o.x0).attr("x2", o.x1).attr("stroke", "#e6e6e6").attr("stroke-width", 0.6);
  const cmin = d3.min(o.count), cmax = d3.max(o.count);
  const tS = d3.scaleLinear().domain([cmin, cmax]).range([0, 1]).clamp(true);
  const rS = d3.scaleLinear().domain([0, 1]).range([2, 4.7]);
  const rad = c => rS(Math.sqrt(tS(c)));
  const pext = d3.extent(o.pval);
  const col = d3.scaleLinear().domain(pext).range(["#FF0000", "#0000FF"]).interpolate(d3.interpolateLab);
  const pts = o.names.map((n, i) => ({ n, r: o.ratio[i], c: o.count[i], p: o.pval[i] }));
  g.selectAll("circle.pt").data(pts).join("circle").attr("class", "pt")
    .attr("cx", d => x(d.r)).attr("cy", d => y(d.n)).attr("r", d => rad(d.c)).attr("fill", d => col(d.p));
  g.append("rect").attr("x", o.x0).attr("y", o.y0).attr("width", o.x1 - o.x0).attr("height", o.y1 - o.y0).attr("fill", "none").attr("stroke", "#b0b0b0").attr("stroke-width", 0.7);
  const xa = g.append("g").attr("transform", `translate(0,${o.y1})`).call(d3.axisBottom(x).tickValues(o.xt).tickSize(2).tickSizeOuter(0).tickPadding(1.5).tickFormat(o.xf));
  xa.attr("font-family", FONT).attr("font-size", 7.2);
  xa.select(".domain").remove();
  xa.selectAll(".tick line").attr("stroke", "#555").attr("stroke-width", 0.5);
  xa.selectAll(".tick text").attr("fill", "#333");
  g.selectAll("line.yt").data(o.names).join("line").attr("x1", o.x0 - 2).attr("x2", o.x0).attr("y1", d => y(d)).attr("y2", d => y(d)).attr("stroke", "#555").attr("stroke-width", 0.5);
  const lbl = g.selectAll("text.yl").data(o.names).join("text").attr("class", "yl")
    .attr("text-anchor", "end").attr("font-size", 7.6).attr("fill", "#1a1a1a");
  lbl.each(function (d) {
    const lines = d.split("\n");
    const t = d3.select(this);
    lines.forEach((ln, k) => t.append("tspan").attr("x", o.x0 - 3).attr("y", y(d) + 2.6 + (k - (lines.length - 1) / 2) * 7.6).text(ln));
  });
  g.append("text").attr("x", o.x0).attr("y", o.titleY).attr("font-size", 9.4).attr("fill", "#111").text(o.title);
  g.append("text").attr("x", o.gX).attr("y", o.gY).attr("text-anchor", "middle").attr("font-size", 9).attr("fill", "#222").text("GeneRatio");
  // count legend
  g.append("text").attr("x", o.lx).attr("y", o.cTitleY).attr("font-size", 8.6).attr("fill", "#222").text("Count");
  let cy = o.cStartY;
  o.countLeg.forEach((c, i) => {
    if (i > 0) cy += Math.max(9, rad(o.countLeg[i - 1]) * 0.85 + rad(c) * 0.85 + 2.3);
    g.append("circle").attr("cx", o.lx + 5.6).attr("cy", cy).attr("r", rad(c) * 0.85).attr("fill", "#000");
    g.append("text").attr("x", o.lx + 12.3).attr("y", cy + 2.4).attr("font-size", 7).attr("fill", "#333").text(c);
  });
  // color bar
  g.append("text").attr("x", o.lx).attr("y", o.pTitleY).attr("font-size", 8.6).attr("fill", "#222").text("pvalue");
  const gid = "grad" + o.id;
  const grad = defs.append("linearGradient").attr("id", gid).attr("x1", 0).attr("x2", 0).attr("y1", 1).attr("y2", 0);
  d3.range(0, 1.0001, 0.1).forEach(t => grad.append("stop").attr("offset", t).attr("stop-color", col(pext[0] + t * (pext[1] - pext[0]))));
  const cb = d3.scaleLinear().domain(pext).range([o.cbB, o.cbT]);
  g.append("rect").attr("x", o.lx + 1).attr("y", o.cbT).attr("width", 8.4).attr("height", o.cbB - o.cbT).attr("fill", `url(#${gid})`);
  o.pTicks.forEach(p => {
    g.append("line").attr("x1", o.lx + 1).attr("x2", o.lx + 2.8).attr("y1", cb(p)).attr("y2", cb(p)).attr("stroke", "#fff").attr("stroke-width", 0.5);
    g.append("line").attr("x1", o.lx + 7.6).attr("x2", o.lx + 9.4).attr("y1", cb(p)).attr("y2", cb(p)).attr("stroke", "#fff").attr("stroke-width", 0.5);
    g.append("text").attr("x", o.lx + 11.8).attr("y", cb(p) + 2.4).attr("font-size", 7).attr("fill", "#333").text(d3.format(".2f")(p));
  });
}
bubble({ id: "E", x0: 127.5, x1: 222.5, y0: 372.3, y1: 606.7, xd: [0.0323, 0.1263], xt: xTicksE, xminor: [0.0375, 0.0625, 0.0875, 0.1125],
  xf: d3.format(".3f"), names: pathE, ratio: ratioE, count: countE, pval: pvalE, title: "CK12_vs_HP12", titleY: 367,
  gX: 181.5, gY: 626, lx: 227.7, cTitleY: 437.3, cStartY: 444.3, countLeg: countLegE, pTitleY: 498, cbT: 501.7, cbB: 546.7, pTicks: pTicks });
bubble({ id: "F", x0: 391, x1: 493, y0: 369.3, y1: 628.3, xd: [0.0425, 0.0925], xt: xTicksF, xminor: [0.045, 0.055, 0.065, 0.075, 0.085],
  xf: d3.format(".2f"), names: pathF, ratio: ratioF, count: countF, pval: pvalF, title: "CK24_vs_HP24", titleY: 364,
  gX: 450, gY: 650, lx: 497.5, cTitleY: 441.5, cStartY: 449, countLeg: countLegF, pTitleY: 512, cbT: 516, cbB: 560.7, pTicks: pTicks });
</script>
</body></html>
